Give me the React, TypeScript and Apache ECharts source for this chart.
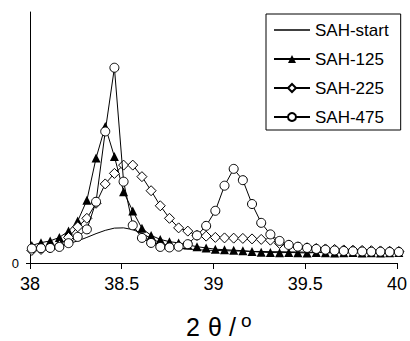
import React, { useEffect, useRef } from "react";
import * as echarts from "echarts";

const X = [
  38.01, 38.06, 38.11, 38.16, 38.21, 38.26, 38.31, 38.36, 38.41, 38.46,
  38.51, 38.56, 38.61, 38.66, 38.71, 38.76, 38.81, 38.86, 38.91, 38.96,
  39.01, 39.06, 39.11, 39.16, 39.21, 39.26, 39.31, 39.36, 39.41, 39.46,
  39.51, 39.56, 39.61, 39.66, 39.71, 39.76, 39.81, 39.86, 39.91, 39.96, 40.01,
];

const SAH_START = [
  5.6, 5.9, 6.3, 6.9, 7.7, 8.8, 10.2, 11.7, 13.0, 13.9,
  14.0, 13.3, 11.8, 9.8, 8.0, 6.8, 6.0, 5.6, 5.3, 5.1,
  5.0, 4.9, 4.8, 4.7, 4.6, 4.6, 4.5, 4.5, 4.4, 4.4,
  4.3, 4.3, 4.3, 4.2, 4.2, 4.2, 4.2, 4.1, 4.1, 4.1, 4.1,
];

const SAH_125 = [
  7.0, 8.1, 8.8, 10.2, 12.7, 16.7, 25.0, 41.8, 54.4, 42.4,
  28.4, 20.7, 13.8, 11.0, 9.4, 8.5, 8.0, 7.2, 6.5, 6.0,
  5.5, 5.3, 5.1, 4.9, 4.6, 4.3, 4.2, 4.1, 4.2, 4.1,
  4.0, 4.2, 4.1, 4.0, 4.1, 4.2, 4.0, 4.1, 4.0, 4.1, 4.2,
];

const SAH_225 = [
  5.0, 5.4, 6.0, 7.0, 10.2, 14.4, 17.8, 23.8, 31.5, 35.7,
  39.0, 39.0, 34.4, 28.8, 22.8, 17.8, 14.0, 12.7, 11.0, 10.7,
  10.2, 10.0, 9.9, 9.8, 9.6, 9.4, 9.1, 7.8, 7.2, 6.4,
  6.1, 5.8, 5.6, 5.4, 5.2, 5.1, 5.0, 4.9, 4.8, 4.7, 4.6,
];

const SAH_475 = [
  5.8, 5.9, 6.0, 6.4, 7.9, 10.4, 13.4, 24.4, 52.4, 77.8,
  32.4, 15.0, 10.0, 8.0, 6.4, 6.2, 6.5, 7.5, 11.0, 14.8,
  20.8, 30.8, 37.5, 33.0, 23.5, 16.0, 11.4, 8.8, 7.2, 6.5,
  6.0, 5.6, 5.3, 5.0, 4.8, 4.7, 4.6, 4.5, 4.5, 4.4, 4.4,
];

const X_TICKS = [38, 38.5, 39, 39.5, 40];
const SERIES_NAMES = ["SAH-start", "SAH-125", "SAH-225", "SAH-475"];

const FONT = "Liberation Sans, Arial, sans-serif";

function pairs(ys: number[]) {
  return ys.map((y, i) => [X[i], y]);
}

export default function App() {
  const ref = useRef<HTMLDivElement>(null);
  useEffect(() => {
    if (!ref.current) return;
    const chart = echarts.init(ref.current, undefined, { renderer: "svg" });
    const lineStyle = { color: "#000", width: 1 };
    const titleStyle = { fontSize: 25, fontFamily: FONT, fill: "#000", verticalAlign: "middle" };
    chart.setOption({
      animation: false,
      backgroundColor: "#fff",
      grid: { left: 30, right: 10, top: 12, bottom: 78 },
      xAxis: {
        type: "value",
        min: 38,
        max: 40,
        interval: 0.5,
        axisLine: { show: true, lineStyle: { color: "#000", width: 1 } },
        axisTick: { show: true, length: 6, lineStyle: { color: "#000" } },
        axisLabel: {
          color: "#000",
          fontSize: 18,
          fontFamily: FONT,
          margin: 12,
          customValues: X_TICKS,
          formatter: (v: number) => String(v),
        },
        splitLine: { show: false },
      },
      yAxis: {
        type: "value",
        min: 0,
        max: 100,
        interval: 100,
        axisLine: { show: true, lineStyle: { color: "#000", width: 1 } },
        axisTick: { show: true, length: 4, customValues: [0], lineStyle: { color: "#000" } },
        axisLabel: {
          color: "#000",
          fontSize: 13,
          fontFamily: FONT,
          margin: 11,
          customValues: [0],
        },
        splitLine: { show: false },
      },
      legend: {
        orient: "vertical",
        left: 266,
        top: 14,
        width: 133,
        padding: [6, 12, 3, 7],
        itemGap: 9,
        itemWidth: 36,
        itemHeight: 10,
        borderColor: "#000",
        borderWidth: 1,
        borderRadius: 0,
        textStyle: { color: "#000", fontSize: 17, fontFamily: FONT, lineHeight: 20 },
        data: [
          { name: SERIES_NAMES[0], icon: "path://M0,0 L36,0 L36,1.4 L0,1.4 Z" },
          SERIES_NAMES[1],
          SERIES_NAMES[2],
          SERIES_NAMES[3],
        ],
      },
      series: [
        {
          name: SERIES_NAMES[0],
          type: "line",
          data: pairs(SAH_START),
          symbol: "none",
          lineStyle,
          itemStyle: { color: "#000" },
          clip: false,
          z: 1,
        },
        {
          name: SERIES_NAMES[1],
          type: "line",
          data: pairs(SAH_125),
          symbol: "triangle",
          symbolSize: 9,
          lineStyle,
          itemStyle: { color: "#000", borderColor: "#000", borderWidth: 0 },
          clip: false,
          z: 2,
        },
        {
          name: SERIES_NAMES[2],
          type: "line",
          data: pairs(SAH_225),
          symbol: "diamond",
          symbolSize: 10,
          lineStyle,
          itemStyle: { color: "#fff", borderColor: "#000", borderWidth: 1 },
          clip: false,
          z: 3,
        },
        {
          name: SERIES_NAMES[3],
          type: "line",
          data: pairs(SAH_475),
          symbol: "circle",
          symbolSize: 9,
          lineStyle,
          itemStyle: { color: "#fff", borderColor: "#000", borderWidth: 1 },
          clip: false,
          z: 4,
        },
      ],
      graphic: [
        { type: "text", x: 186, y: 327, style: { ...titleStyle, text: "2" } },
        { type: "text", x: 208, y: 327, style: { ...titleStyle, text: "θ" } },
        { type: "text", x: 229, y: 327, style: { ...titleStyle, text: "/" } },
        { type: "text", x: 241, y: 320, style: { ...titleStyle, fontSize: 19, text: "o" } },
      ],
    });
    return () => chart.dispose();
  }, []);
  return <div ref={ref} style={{ width: 410, height: 341, position: "absolute", left: 0, top: 0 }} />;
}
